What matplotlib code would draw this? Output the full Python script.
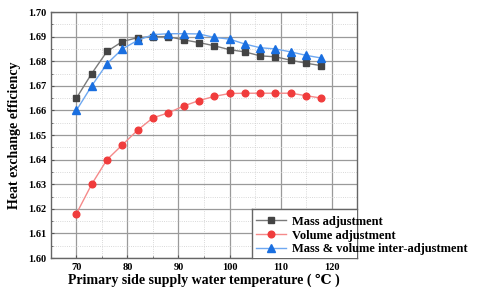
import matplotlib.pyplot as plt
from matplotlib.lines import Line2D
from matplotlib.ticker import MultipleLocator

plt.rcParams['font.family'] = ['Liberation Serif', 'DejaVu Serif']
plt.rcParams['font.weight'] = 'bold'

temps = [70, 73, 76, 79, 82, 85, 88, 91, 94, 97, 100, 103, 106, 109, 112, 115, 118]
mass = [1.665, 1.675, 1.684, 1.688, 1.6896, 1.690, 1.690, 1.6887, 1.6876, 1.6863,
        1.6847, 1.6838, 1.6822, 1.6818, 1.6804, 1.6792, 1.6782]
volume = [1.618, 1.630, 1.640, 1.646, 1.652, 1.657, 1.659, 1.6618, 1.664, 1.6657,
          1.6669, 1.667, 1.667, 1.667, 1.667, 1.666, 1.665]
mixed = [1.660, 1.670, 1.679, 1.685, 1.6885, 1.6908, 1.6912, 1.6912, 1.6911, 1.6897,
         1.689, 1.687, 1.6855, 1.685, 1.6838, 1.6824, 1.6813]

fig = plt.figure(figsize=(4.8, 2.94), dpi=100)
ax = fig.add_axes([0.106, 0.1224, 0.638, 0.8366])

ax.plot(temps, mass, color='#7a7a7a', lw=1, marker='s', ms=4.3,
        mfc='#444444', mec='#444444', label='Mass adjustment', zorder=3)
ax.plot(temps, volume, color='#f58a8a', lw=1, marker='o', ms=4.8,
        mfc='#f03c3c', mec='#f03c3c', label='Volume adjustment', zorder=3)
ax.plot(temps, mixed, color='#6fa8f0', lw=1, marker='^', ms=5.3,
        mfc='#1a6fe0', mec='#1a6fe0', label='Mass & volume inter-adjustment', zorder=4)

ax.set_xlim(65, 125)
ax.set_ylim(1.60, 1.70)
ax.xaxis.set_minor_locator(MultipleLocator(5))
ax.yaxis.set_major_locator(MultipleLocator(0.01))
ax.yaxis.set_minor_locator(MultipleLocator(0.005))
ax.set_xticks([70, 80, 90, 100, 110, 120])
ax.yaxis.set_major_formatter(plt.FuncFormatter(lambda v, p: '%.2f' % v))

ax.grid(which='major', color='#9a9a9a', lw=0.9)
ax.grid(which='minor', color='#cccccc', lw=0.6, ls=':')
ax.tick_params(which='both', direction='in', labelsize=7.5, length=2.5, color='#555555')
ax.tick_params(which='minor', length=1.5)
for s in ax.spines.values():
    s.set_color('#666666')
    s.set_linewidth(1)

ax.set_xlabel('Primary side supply water temperature ( ℃ )', fontsize=10,
              fontweight='bold', labelpad=1)
ax.set_ylabel('Heat exchange efficiency', fontsize=10, fontweight='bold', labelpad=5)

leg = ax.legend(loc='lower left', bbox_to_anchor=(0.657, -0.005), frameon=False,
                fontsize=9, handlelength=2.4, borderaxespad=0, labelspacing=0.15,
                handletextpad=0.5, borderpad=0.3)
leg.set_zorder(5)
ax.add_line(Line2D([0.657, 0.657], [0, 0.199], transform=ax.transAxes,
                   color='#666666', lw=1, clip_on=False, zorder=5))
ax.add_line(Line2D([0.657, 1.0], [0.199, 0.199], transform=ax.transAxes,
                   color='#666666', lw=1, clip_on=False, zorder=5))
ax.add_patch(plt.Rectangle((0.657, 0), 0.343, 0.199, transform=ax.transAxes,
                           facecolor='white', edgecolor='none', zorder=4.5))

fig.savefig('out.png', dpi=100)
